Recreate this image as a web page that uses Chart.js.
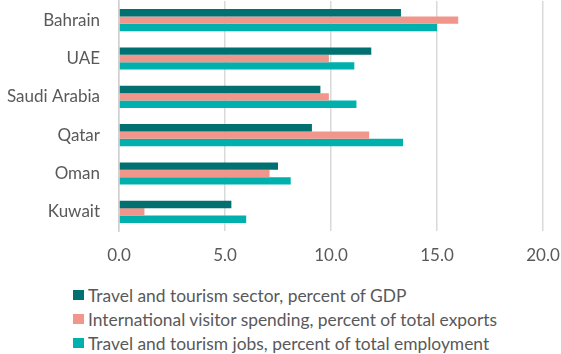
<!DOCTYPE html>
<html lang="en">
<head>
  <meta charset="UTF-8" />
  <title>Travel and tourism in the GCC</title>
  <style>
    * { margin: 0; padding: 0; box-sizing: border-box; }
    body { background: white; width: 561px; height: 354px; overflow: hidden; }
    .wrap { position: relative; width: 561px; height: 354px; }
    .chart-box { position: absolute; left: 0; top: 0; width: 561px; height: 275px; }
    #legend { position: absolute; left: 73px; top: 283px; list-style: none; }
    #legend li {
      display: flex; align-items: center; height: 24px;
      font-family: Lato, sans-serif; font-size: 17.4px; color: #595959;
    }
    #legend .swatch { width: 11px; height: 10px; margin-right: 4px; }
  </style>
</head>
<body>
  <div class="wrap">
    <div class="chart-box"><canvas id="chartCanvas"></canvas></div>
    <ul id="legend"></ul>
  </div>

  <script src="https://cdn.jsdelivr.net/npm/chart.js"></script>
  <script>
    const countries = ["Bahrain", "UAE", "Saudi Arabia", "Qatar", "Oman", "Kuwait"];
    const gdpShare = [13.3, 11.9, 9.5, 9.1, 7.5, 5.3];
    const exportShare = [16.0, 9.9, 9.9, 11.8, 7.1, 1.2];
    const jobsShare = [15.0, 11.1, 11.2, 13.4, 8.1, 6.0];
    const seriesNames = [
      "Travel and tourism sector, percent of GDP",
      "International visitor spending, percent of total exports",
      "Travel and tourism jobs, percent of total employment"
    ];
    const colors = ["#007070", "#f0968b", "#00b0ad"];
    const xTicks = [0, 5, 10, 15, 20];

    const font = { family: "Lato, sans-serif", size: 17 };

    const ctx = document.getElementById("chartCanvas").getContext("2d");
    const chart = new Chart(ctx, {
      type: "bar",
      data: {
        labels: countries,
        datasets: [gdpShare, exportShare, jobsShare].map((d, i) => ({
          label: seriesNames[i],
          data: d,
          backgroundColor: colors[i],
          borderWidth: 0,
          categoryPercentage: 0.58,
          barPercentage: 1.0
        }))
      },
      options: {
        indexAxis: "y",
        responsive: true,
        maintainAspectRatio: false,
        animation: false,
        layout: { padding: { top: 1, right: 18, left: 0, bottom: 0 } },
        plugins: { legend: { display: false }, tooltip: { enabled: false } },
        scales: {
          x: {
            min: 0,
            max: 20,
            afterBuildTicks: s => { s.ticks = xTicks.map(v => ({ value: v })); },
            afterFit: s => { s.height = 44; s.paddingLeft = 0; s.paddingRight = 0; },
            ticks: {
              font: font,
              color: "#595959",
              padding: 14,
              callback: v => Number(v).toFixed(1)
            },
            grid: { color: "#d9d9d9", lineWidth: 1.5, drawTicks: false },
            border: { display: false }
          },
          y: {
            afterFit: s => { s.width = 119; s.paddingTop = 0; s.paddingBottom = 0; },
            ticks: { font: font, color: "#595959", padding: 19 },
            grid: { display: false, drawTicks: false },
            border: { display: true, color: "#d0d0d0", width: 1.5 }
          }
        }
      }
    });

    const legend = document.getElementById("legend");
    chart.data.datasets.forEach(ds => {
      const li = document.createElement("li");
      const sw = document.createElement("span");
      sw.className = "swatch";
      sw.style.background = ds.backgroundColor;
      li.appendChild(sw);
      li.appendChild(document.createTextNode(ds.label));
      legend.appendChild(li);
    });
  </script>
</body>
</html>
